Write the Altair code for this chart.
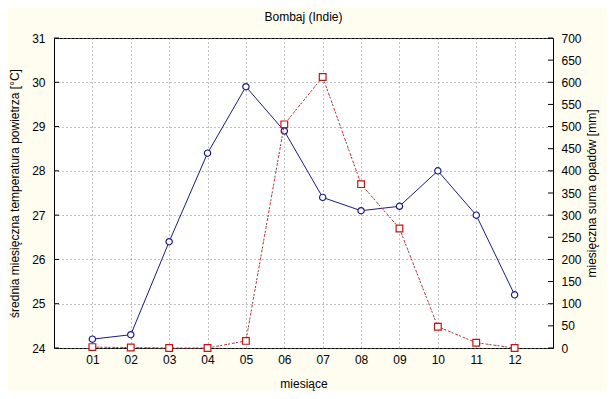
import altair as alt
import pandas as pd

months = [1, 2, 3, 4, 5, 6, 7, 8, 9, 10, 11, 12]
temperature = [24.2, 24.3, 26.4, 28.4, 29.9, 28.9, 27.4, 27.1, 27.2, 28.0, 27.0, 25.2]
precipitation = [2, 1, 0, 0, 16, 505, 612, 370, 270, 48, 12, 0]
left_ticks = [24, 25, 26, 27, 28, 29, 30, 31]
right_ticks = list(range(0, 701, 50))

W, H = 499, 310
FONT = "Liberation Sans"

df = pd.DataFrame({"m": months, "t": temperature, "p": precipitation})
lt = pd.DataFrame({"v": left_ticks})
rt = pd.DataFrame({"v": right_ticks})

xenc = alt.X(
    "m:Q",
    scale=alt.Scale(domain=[0, 13], nice=False, zero=False),
    axis=alt.Axis(
        values=months,
        labelExpr="datum.value < 10 ? '0' + datum.value : '' + datum.value",
        title="miesiące",
        ticks=False,
        domain=False,
        grid=True,
        gridDash=[1, 3],
        gridColor="#808080",
        labelPadding=6,
        titlePadding=13,
    ),
)

left_axis = alt.Axis(
    orient="left",
    values=left_ticks,
    title="średnia miesięczna temperatura powietrza [°C]",
    ticks=False,
    domain=False,
    grid=True,
    gridDash=[1, 3],
    gridColor="#808080",
    labelPadding=9,
    titlePadding=10,
)
ly = dict(scale=alt.Scale(domain=[24, 31], nice=False, zero=False), axis=left_axis)

right_axis = alt.Axis(
    orient="right",
    values=right_ticks,
    title="miesięczna suma opadów [mm]",
    ticks=False,
    domain=False,
    grid=False,
    labelPadding=8,
    titlePadding=17,
    titleAngle=270,
)
ry = dict(scale=alt.Scale(domain=[0, 700], nice=False, zero=False), axis=right_axis)

base = alt.Chart(df)

t_line = base.mark_line(color="#1a1a8c", strokeWidth=1).encode(x=xenc, y=alt.Y("t:Q", **ly))
t_pts = base.mark_point(shape="circle", size=40, filled=True, fill="white", stroke="#1a1a8c", strokeWidth=1.2, opacity=1).encode(
    x=xenc, y=alt.Y("t:Q", **ly)
)
t_ticks = alt.Chart(lt).mark_rule(color="black").encode(
    x=alt.value(0), x2=alt.value(5), y=alt.Y("v:Q", **ly)
)
left = alt.layer(t_line, t_pts, t_ticks)

p_line1 = base.mark_line(color="#505050", strokeWidth=1, strokeDash=[2, 6]).encode(x=xenc, y=alt.Y("p:Q", **ry))
p_line2 = base.mark_line(color="#e82828", strokeWidth=1, strokeDash=[3, 5], strokeDashOffset=4).encode(
    x=xenc, y=alt.Y("p:Q", **ry)
)
p_pts = base.mark_point(shape="square", size=45, filled=True, fill="white", stroke="#d01010", strokeWidth=1.2, opacity=1).encode(
    x=xenc, y=alt.Y("p:Q", **ry)
)
p_ticks = alt.Chart(rt).mark_rule(color="black").encode(
    x=alt.value(W - 5), x2=alt.value(W), y=alt.Y("v:Q", **ry)
)
right = alt.layer(p_line1, p_line2, p_pts, p_ticks)

chart = (
    alt.layer(left, right)
    .resolve_scale(y="independent")
    .properties(
        width=W,
        height=H,
        title=alt.Title("Bombaj (Indie)", font=FONT, fontSize=12, fontWeight="normal", color="black", offset=8),
        autosize=alt.AutoSizeParams(type="none"),
        padding={"left": 46, "top": 30, "right": 54, "bottom": 43},
        background="#FFFCF0",
    )
    .configure_view(fill="white", stroke="black", strokeWidth=1)
    .configure_axis(
        labelFont=FONT,
        titleFont=FONT,
        labelFontSize=12,
        titleFontSize=12,
        titleFontWeight="normal",
        labelColor="black",
        titleColor="black",
    )
)

chart.save("out.html", embed_options={"renderer": "svg", "actions": False})
